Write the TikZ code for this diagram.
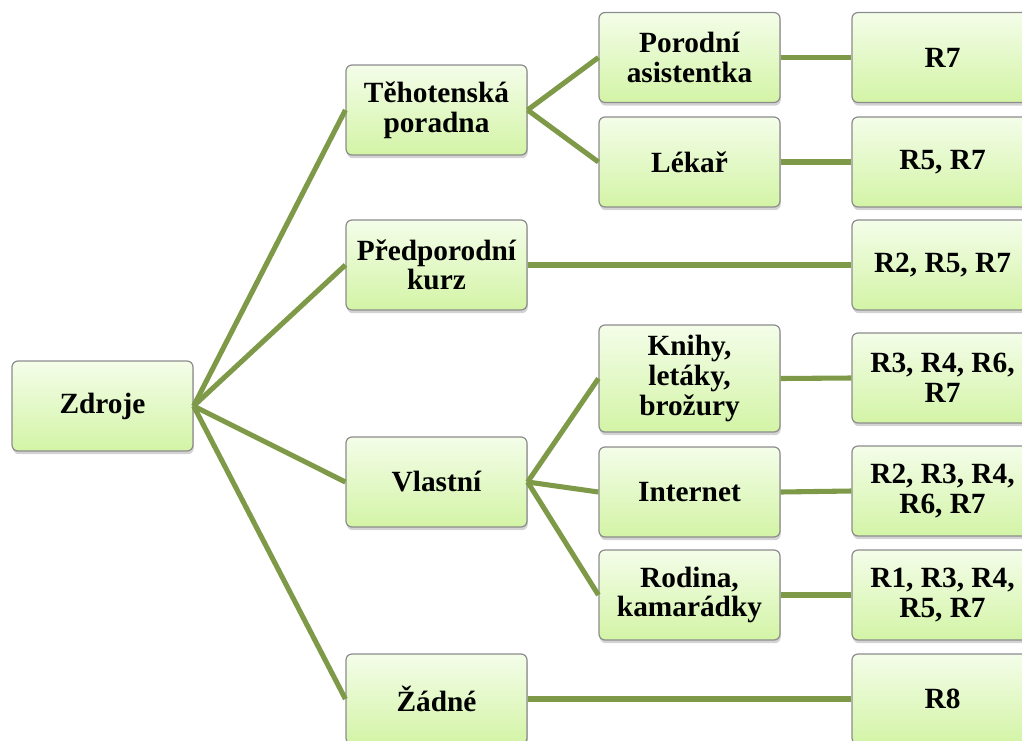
\documentclass[tikz,border=0pt]{standalone}
\usepackage{fontspec}
\setmainfont{Liberation Serif}
\usetikzlibrary{shadows}
\definecolor{lineolive}{HTML}{7E9A48}
\definecolor{boxtop}{HTML}{F4FDE9}
\definecolor{boxbot}{HTML}{D3F4A6}
\definecolor{boxline}{HTML}{8C8C8C}

\begin{document}
\begin{tikzpicture}[x=0.75pt, y=-0.75pt,
    box/.style={draw=boxline, line width=0.9pt, rounded corners=4.5pt, top color=boxtop, bottom color=boxbot,
        minimum width=135.75pt, minimum height=67.5pt, align=center,
        font=\fontsize{22}{22.2}\selectfont\bfseries,
        drop shadow={shadow xshift=0.6pt, shadow yshift=-2.4pt, opacity=0.35}},
    link/.style={draw=lineolive, line width=3.8pt}
]
\clip (0,0) rectangle (1022,740);

% Root
\node[box] (zdr) at (102.5,406) {Zdroje};

% Second level
\node[box] (teh) at (436.5,110) {Těhotenská\\poradna};
\node[box] (pre) at (436.5,265) {Předporodní\\kurz};
\node[box] (vla) at (436.5,482) {Vlastní};
\node[box] (zad) at (436.5,699) {Žádné};

% Third level
\node[box] (por) at (689.5,57.5) {Porodní\\asistentka};
\node[box] (lek) at (689.5,162) {Lékař};
\node[box, minimum height=80.25pt] (kni) at (689.5,378.5) {Knihy,\\letáky,\\brožury};
\node[box] (int) at (689.5,492) {Internet};
\node[box] (rod) at (689.5,595) {Rodina,\\kamarádky};

% Respondents
\node[box] (rpor) at (942.5,57.5) {R7};
\node[box] (rlek) at (942.5,162) {R5, R7};
\node[box] (rpre) at (942.5,265) {R2, R5, R7};
\node[box] (rkni) at (942.5,378) {R3, R4, R6,\\R7};
\node[box] (rint) at (942.5,491) {R2, R3, R4,\\R6, R7};
\node[box] (rrod) at (942.5,595) {R1, R3, R4,\\R5, R7};
\node[box] (rzad) at (942.5,699) {R8};

% Links
\foreach \a/\b in {zdr/teh, zdr/pre, zdr/vla, zdr/zad,
                   teh/por, teh/lek, vla/kni, vla/int, vla/rod,
                   por/rpor, lek/rlek, pre/rpre, kni/rkni, int/rint, rod/rrod, zad/rzad}
    \draw[link] (\a.east) -- (\b.west);
\end{tikzpicture}
\end{document}
